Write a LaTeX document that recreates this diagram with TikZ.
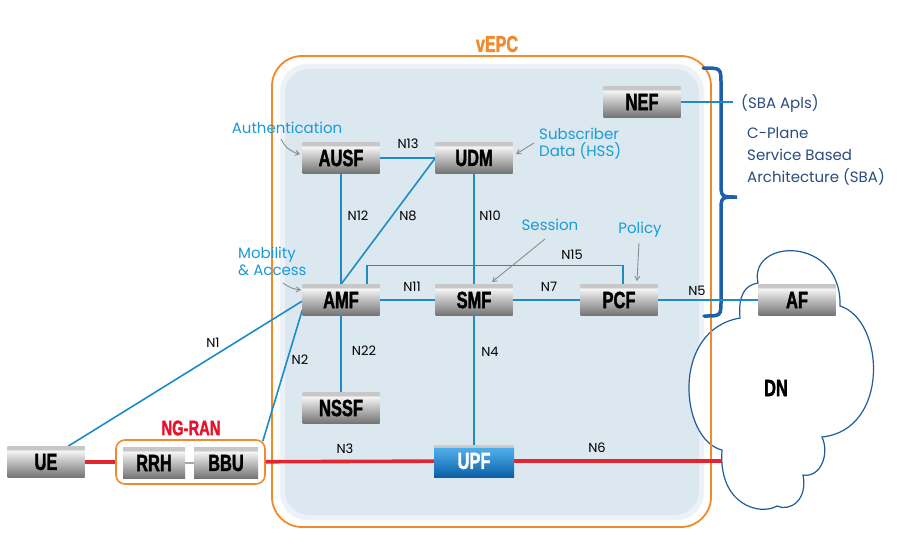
\documentclass[tikz,border=0pt]{standalone}
\usepackage{fontspec}
\setmainfont{Poppins}
\newfontfamily\impact[UprightFont={* Bold},FakeStretch=0.7,FakeBold=1.6]{Liberation Sans}
\usetikzlibrary{arrows.meta}
\definecolor{epcfill}{HTML}{DCE8F0}
\definecolor{epcorange}{HTML}{F08A2C}
\definecolor{lnblue}{HTML}{1E8BC9}
\definecolor{lblcyan}{HTML}{1A9BD7}
\definecolor{rtblue}{HTML}{2B4C7E}
\definecolor{braceblue}{HTML}{1C5FAA}
\definecolor{redln}{HTML}{E42530}
\definecolor{cloudln}{HTML}{1F5C99}
\definecolor{ngred}{HTML}{E8102A}
\definecolor{upftop}{HTML}{4FAEEA}
\definecolor{upfbot}{HTML}{0B5FA5}
\pgfdeclareverticalshading{nfgray}{100bp}{color(0bp)=(black!55); color(25bp)=(black!55); color(55bp)=(black!20); color(68bp)=(black!4); color(71bp)=(black!22); color(75bp)=(black!22); color(100bp)=(black!22)}
\pgfdeclareverticalshading{nfblue}{100bp}{color(0bp)=(upfbot); color(25bp)=(upfbot); color(60bp)=(upftop!80!upfbot); color(71bp)=(upftop); color(72bp)=(black!20); color(75bp)=(black!20); color(100bp)=(black!20)}
\pgfdeclarelayer{back}
\pgfdeclarelayer{lines}
\pgfsetlayers{back,lines,main}
\tikzset{
  fbox/.style={shading=nfgray, minimum width=77pt, minimum height=31pt, inner sep=0pt,
    font=\impact\fontsize{23.5}{23.5}\selectfont, text=black},
  ublue/.style={fbox, shading=nfblue, text=white, minimum width=80pt, minimum height=32pt},
  cline/.style={draw=lnblue, line width=1.6pt},
  rline/.style={draw=redln, line width=3.6pt},
  nlab/.style={font=\fontsize{13}{15}\selectfont, text=black, inner sep=0pt},
  clab/.style={font=\fontsize{15}{17}\selectfont, text=lblcyan, inner sep=0pt, align=left},
  rlab/.style={font=\fontsize{15}{22}\selectfont, text=rtblue, inner sep=0pt, align=left},
  garrow/.style={draw=black!45, line width=0.9pt, -{Straight Barb[length=4pt,width=5pt]}}
}
\begin{document}
\begin{tikzpicture}[x=1pt,y=-1pt]
\useasboundingbox (0,0) rectangle (902,550);
\begin{pgfonlayer}{back}
\fill[white] (0,0) rectangle (902,550);
% vEPC background
\fill[white, rounded corners=30] (272,56) rectangle (711,527);
\fill[epcfill!55!white, rounded corners=27] (280,64) rectangle (704,520);
\fill[epcfill, rounded corners=24] (285,69) rectangle (699,515);
% DN cloud
\filldraw[fill=white, draw=cloudln, line width=1.2pt] (758,283) .. controls (748,238) and (842,235) .. (840,306) .. controls (885,320) and (890,430) .. (822,437) .. controls (830,455) and (820,478) .. (803,475) .. controls (808,500) and (790,512) .. (777,506) .. controls (760,516) and (718,505) .. (722,450) .. controls (680,440) and (670,330) .. (740,318) .. controls (738,295) and (745,285) .. (758,283) -- cycle;
% vEPC border
\draw[epcorange, line width=1.8pt, rounded corners=30] (272,56) rectangle (711,527);
% brace
\draw[braceblue, line width=3.5pt, line cap=round] (703,68) .. controls (721,68) .. (721,84) -- (721,182) .. controls (721,197) .. (737,197) .. controls (721,197) .. (721,212) -- (721,300) .. controls (721,316) .. (704,316);
\end{pgfonlayer}
\node[text=epcorange, font=\impact\fontsize{23}{23}\selectfont] (vepc) at (497,44) {vEPC};
% NG-RAN box
\begin{pgfonlayer}{back}
\node[draw=epcorange, line width=1.6pt, rounded corners=9, fill=white, minimum width=149pt, minimum height=44pt] (ngran) at (190.5,462) {};
\end{pgfonlayer}
\node[text=ngred, font=\impact\fontsize{21}{21}\selectfont] (ngranlab) at (191,428) {NG-RAN};
% coordinates
\coordinate (dnedge) at (722,461);
\coordinate (sbaend) at (733,102);
% nodes
\node[fbox] (nef) at (642,102) {NEF};
\node[fbox] (ausf) at (341,158) {AUSF};
\node[fbox] (udm) at (474,158) {UDM};
\node[fbox] (amf) at (341,300) {AMF};
\node[fbox] (smf) at (474,300) {SMF};
\node[fbox] (pcf) at (619,300) {PCF};
\node[fbox] (af) at (797,300) {AF};
\node[fbox] (nssf) at (341,408) {NSSF};
\node[ublue] (upf) at (474,461) {UPF};
\node[fbox] (ue) at (46,462) {UE};
\node[fbox, minimum width=62pt] (rrh) at (154,463) {RRH};
\node[fbox, minimum width=64pt] (bbu) at (226,463) {BBU};
\node[font=\impact\fontsize{23.5}{23.5}\selectfont] (dn) at (776,388) {DN};
% connectors
\begin{pgfonlayer}{lines}
\draw[cline] (nef.east) -- (sbaend);
\draw[cline] (ausf) -- (udm);
\draw[cline] (amf.north) -- (udm.west);
\draw[cline] (ausf) -- (amf);
\draw[cline] (udm) -- (smf);
\draw[cline] (amf) -- (smf);
\draw[cline] (smf) -- (pcf);
\draw[cline] (pcf) -- (af);
\draw[cline] ([xshift=26pt]amf.north) |- ++(0,-19) -| ([xshift=4pt]pcf.north);
\draw[cline] (amf) -- (nssf);
\draw[cline] (smf) -- (upf);
\draw[cline] ([xshift=22pt]ue.north) -- ([yshift=-1pt]amf.west);
\draw[cline] ([xshift=-3pt,yshift=-2pt]ngran.north east) -- ([yshift=-10pt]amf.west);
\draw[rline] (ue) -- (ngran);
\draw[rline] (ngran) -- (upf);
\draw[rline] (upf) -- (dnedge);
\draw[draw=black!35, line width=2pt] (rrh) -- (bbu);
\end{pgfonlayer}
% interface labels
\node[nlab] (l13) at (408,144) {N13};
\node[nlab] (l12) at (358,216) {N12};
\node[nlab] (l8) at (408,216) {N8};
\node[nlab] (l10) at (490,216) {N10};
\node[nlab] (l15) at (572,255) {N15};
\node[nlab] (l11) at (412,287) {N11};
\node[nlab] (l7) at (549,287) {N7};
\node[nlab] (l5) at (697,291) {N5};
\node[nlab] (l1) at (213,343) {N1};
\node[nlab] (l2) at (300,360) {N2};
\node[nlab] (l22) at (364,351) {N22};
\node[nlab] (l4) at (490,352) {N4};
\node[nlab] (l3) at (345,449) {N3};
\node[nlab] (l6) at (597,448) {N6};
% function labels
\node[clab] (tauth) at (287,128) {Authentication};
\node[clab, anchor=west] (tsub) at (539,144) {Subscriber\\Data (HSS)};
\node[clab, anchor=west] (tmob) at (238,261) {Mobility\\\& Access};
\node[clab] (tses) at (550,225) {Session};
\node[clab] (tpol) at (640,230) {Policy};
\node[rlab, anchor=west] (tapi) at (741,103) {(SBA Apls)};
\node[rlab, anchor=west] (tsba) at (747,156) {C-Plane\\Service Based\\Architecture (SBA)};
% pointer arrows
\coordinate (aa) at (281,139); \coordinate (ab) at (300,154);
\draw[garrow] (aa) to[bend right=25] (ab);
\coordinate (sa) at (534,143); \coordinate (sb) at (516,154);
\draw[garrow] (sa) -- (sb);
\coordinate (ma) at (283,283); \coordinate (mb) at (301,290);
\draw[garrow] (ma) to[bend right=15] (mb);
\coordinate (ssa) at (545,239); \coordinate (ssb) at (492,282);
\draw[garrow] (ssa) -- (ssb);
\coordinate (pa) at (639,243); \coordinate (pb) at (637,281);
\draw[garrow] (pa) -- (pb);
\end{tikzpicture}
\end{document}
